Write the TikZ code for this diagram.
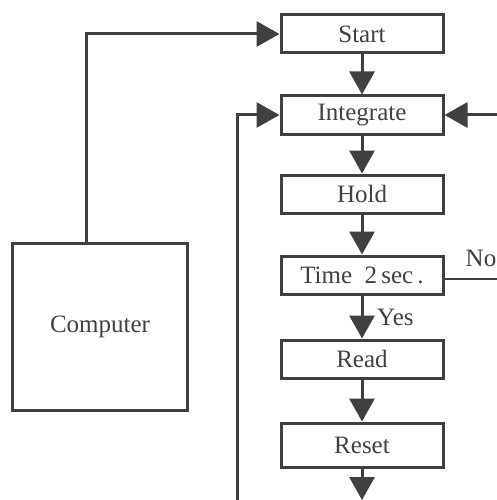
\documentclass[tikz,border=0pt]{standalone}
\usepackage{fontspec}
\setmainfont{Liberation Serif}
\usetikzlibrary{arrows.meta}
\definecolor{ink}{gray}{0.25}
\begin{document}
\begin{tikzpicture}[x=1pt,y=-1pt,
  box/.style={draw=ink, line width=3pt, minimum width=162pt, minimum height=38pt, inner sep=0pt, font=\fontsize{25}{30}\selectfont, text=ink},
  lab/.style={inner sep=0pt, font=\fontsize{25}{30}\selectfont, text=ink},
  conn/.style={draw=ink, line width=3pt, -{Triangle[length=23pt,width=25pt]}}]
\useasboundingbox (0,0) rectangle (497,500);
\node[box] (start) at (362,34) {Start};
\node[box] (integ) at (362,115) {Integrate};
\node[box] (hold) at (362,194) {Hold};
\node[box] (time) at (362,275) {Time\hspace{0.5em}2\,sec\,.};
\node[box] (read) at (362,359) {Read};
\node[box, minimum height=44pt] (reset) at (362,445) {Reset};
\node[box, minimum width=175pt, minimum height=167pt] (comp) at (100,327) {Computer};
\node[lab] (no) at (481,258) {No};
\node[lab, anchor=west] (yes) at (377,317) {Yes};
\coordinate (loopbot) at (237,500);
\coordinate (rightin) at (497,115);
\coordinate (noend) at (497,279);
\coordinate (botend) at (362,500);
\draw[conn] ([xshift=-14pt]comp.north) |- (start.west);
\draw[conn] (start) -- (integ);
\draw[conn] (integ) -- (hold);
\draw[conn] (hold) -- (time);
\draw[conn] (time) -- (read);
\draw[conn] (read) -- (reset);
\draw[conn] (reset) -- (botend);
\draw[conn] (loopbot) |- (integ.west);
\draw[conn] (rightin) -- (integ.east);
\draw[draw=ink, line width=2pt] ([yshift=-4pt]time.east) -- (noend);
\end{tikzpicture}
\end{document}
